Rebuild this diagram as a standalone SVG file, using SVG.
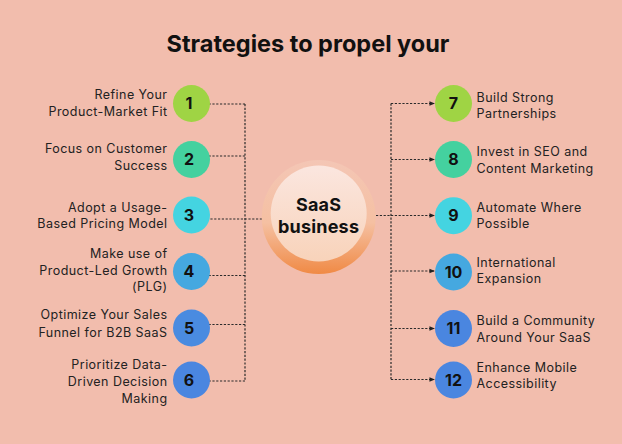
<svg xmlns="http://www.w3.org/2000/svg" width="622" height="444" viewBox="0 0 622 444">
<defs>
<linearGradient id="gOuter" x1="0" y1="0" x2="0" y2="1">
<stop offset="0" stop-color="#f4c6b5"/>
<stop offset="0.55" stop-color="#f5c0a2"/>
<stop offset="1" stop-color="#f08a45"/>
</linearGradient>
<linearGradient id="gInner" x1="0" y1="0" x2="0" y2="1">
<stop offset="0" stop-color="#fbe6df"/>
<stop offset="1" stop-color="#f8d3ba"/>
</linearGradient>
<marker id="ah" viewBox="0 0 6 6" refX="5" refY="3" markerWidth="5.5" markerHeight="5.5" orient="auto" markerUnits="userSpaceOnUse">
<path d="M0,0.5 L6,3 L0,5.5 Z" fill="#222"/>
</marker>
<style>
.lbl{font-family:Inter,"Liberation Sans",sans-serif;font-size:12.5px;letter-spacing:0.45px;fill:#222}
.l{text-anchor:end}
.num{font-family:Inter,"Liberation Sans",sans-serif;font-size:16px;font-weight:bold;fill:#111;text-anchor:middle}
.ln{fill:none;stroke:#2a2a2a;stroke-width:1.2;stroke-dasharray:2.2 1.6}
.ttl{font-family:Inter,"Liberation Sans",sans-serif;font-size:23.5px;font-weight:bold;fill:#111;text-anchor:middle}
.ctr{font-family:Inter,"Liberation Sans",sans-serif;font-size:18px;letter-spacing:0.2px;font-weight:bold;fill:#111;text-anchor:middle}
</style>
</defs>
<rect width="622" height="444" fill="#f2bdad"/>
<text class="ttl" x="308" y="52">Strategies to propel your</text>

<g id="connectors">
<path class="ln" d="M245,104 V381"/>
<path class="ln" d="M245,104 H203" marker-end="url(#ah)"/>
<path class="ln" d="M245,156 H203" marker-end="url(#ah)"/>
<path class="ln" d="M262,219 H203" marker-end="url(#ah)"/>
<path class="ln" d="M245,275.5 H203" marker-end="url(#ah)"/>
<path class="ln" d="M245,324.5 H203" marker-end="url(#ah)"/>
<path class="ln" d="M245,381 H203" marker-end="url(#ah)"/>
<path class="ln" d="M391,103.5 V379.5"/>
<path class="ln" d="M376,215.5 H391"/>
<path class="ln" d="M391,103.5 H434" marker-end="url(#ah)"/>
<path class="ln" d="M391,159.5 H434" marker-end="url(#ah)"/>
<path class="ln" d="M391,215.5 H434" marker-end="url(#ah)"/>
<path class="ln" d="M391,271 H434" marker-end="url(#ah)"/>
<path class="ln" d="M391,328.5 H434" marker-end="url(#ah)"/>
<path class="ln" d="M391,379.5 H434" marker-end="url(#ah)"/>
</g>

<g id="center">
<circle cx="318.7" cy="217" r="57" fill="url(#gOuter)"/>
<circle cx="318.7" cy="213.5" r="48" fill="url(#gInner)"/>
<text class="ctr" x="318.6" y="211">SaaS</text>
<text class="ctr" x="318.6" y="233.3">business</text>
</g>

<g id="n1">
<circle cx="191.5" cy="103.5" r="18.5" fill="#9fd444"/>
<text class="num" x="189" y="109">1</text>
<text class="lbl l" x="167.5" y="99">Refine Your</text>
<text class="lbl l" x="167.5" y="116">Product-Market Fit</text>
</g>
<g id="n2">
<circle cx="191.5" cy="159.5" r="18.5" fill="#44d19f"/>
<text class="num" x="189" y="165">2</text>
<text class="lbl l" x="167.5" y="153.3">Focus on Customer</text>
<text class="lbl l" x="167.5" y="170">Success</text>
</g>
<g id="n3">
<circle cx="191.5" cy="215" r="18.5" fill="#44d4e1"/>
<text class="num" x="189" y="220.5">3</text>
<text class="lbl l" x="167.5" y="211.5">Adopt a Usage-</text>
<text class="lbl l" x="167.5" y="228">Based Pricing Model</text>
</g>
<g id="n4">
<circle cx="191.5" cy="271.5" r="18.5" fill="#45a8e0"/>
<text class="num" x="189" y="277">4</text>
<text class="lbl l" x="167.5" y="257.5">Make use of</text>
<text class="lbl l" x="167.5" y="274.5">Product-Led Growth</text>
<text class="lbl l" x="167.5" y="291">(PLG)</text>
</g>
<g id="n5">
<circle cx="191.5" cy="328" r="18.5" fill="#4a8be0"/>
<text class="num" x="189" y="333.5">5</text>
<text class="lbl l" x="167.5" y="319">Optimize Your Sales</text>
<text class="lbl l" x="167.5" y="336.5">Funnel for B2B SaaS</text>
</g>
<g id="n6">
<circle cx="191.5" cy="380" r="18.5" fill="#4a86e0"/>
<text class="num" x="189" y="385.5">6</text>
<text class="lbl l" x="167.5" y="369">Prioritize Data-</text>
<text class="lbl l" x="167.5" y="386">Driven Decision</text>
<text class="lbl l" x="167.5" y="403">Making</text>
</g>

<g id="n7">
<circle cx="453.5" cy="103.5" r="18.5" fill="#9fd444"/>
<text class="num" x="453.5" y="109">7</text>
<text class="lbl" x="476.5" y="101.7">Build Strong</text>
<text class="lbl" x="476.5" y="118.3">Partnerships</text>
</g>
<g id="n8">
<circle cx="453.5" cy="159.5" r="18.5" fill="#44d19f"/>
<text class="num" x="453.5" y="165">8</text>
<text class="lbl" x="476.5" y="156">Invest in SEO and</text>
<text class="lbl" x="476.5" y="172.7">Content Marketing</text>
</g>
<g id="n9">
<circle cx="453.5" cy="215.7" r="18.5" fill="#44d4e1"/>
<text class="num" x="453.5" y="221.2">9</text>
<text class="lbl" x="476.5" y="211.7">Automate Where</text>
<text class="lbl" x="476.5" y="228.3">Possible</text>
</g>
<g id="n10">
<circle cx="453.5" cy="272" r="18.5" fill="#45a8e0"/>
<text class="num" x="453.5" y="277.5">10</text>
<text class="lbl" x="476.5" y="266.7">International</text>
<text class="lbl" x="476.5" y="283.3">Expansion</text>
</g>
<g id="n11">
<circle cx="453.5" cy="328.5" r="18.5" fill="#4a86e0"/>
<text class="num" x="453.5" y="334">11</text>
<text class="lbl" x="476.5" y="325">Build a Community</text>
<text class="lbl" x="476.5" y="341.7">Around Your SaaS</text>
</g>
<g id="n12">
<circle cx="453.5" cy="380" r="18.5" fill="#4a86e0"/>
<text class="num" x="453.5" y="385.5">12</text>
<text class="lbl" x="476.5" y="371.7">Enhance Mobile</text>
<text class="lbl" x="476.5" y="388.3">Accessibility</text>
</g>
</svg>
